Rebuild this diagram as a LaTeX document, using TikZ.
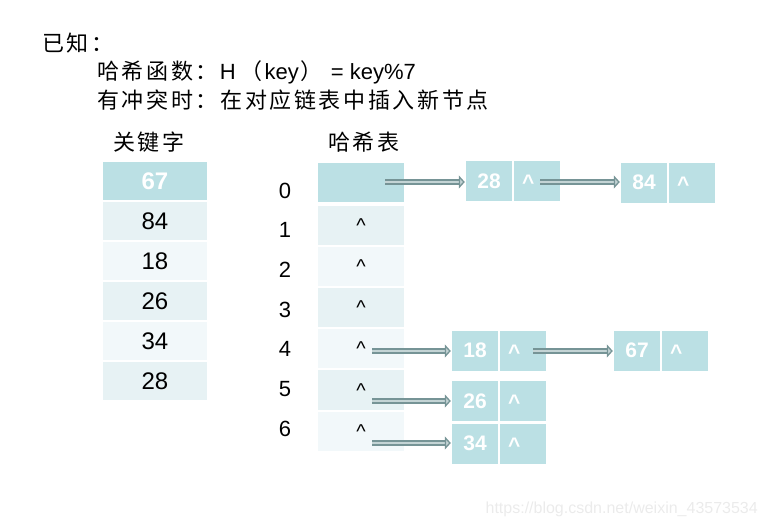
\documentclass[tikz,border=0pt]{standalone}
\usepackage{fontspec}
\setmainfont{Liberation Sans}
\newfontfamily\cjk[LetterSpace=12]{Noto Sans CJK SC}
\usetikzlibrary{arrows.meta}
\definecolor{hdark}{RGB}{187,224,228}
\definecolor{hmid}{RGB}{231,242,244}
\definecolor{hlight}{RGB}{242,248,250}
\definecolor{arrdark}{RGB}{118,148,150}
\definecolor{arrlight}{RGB}{196,212,213}
\tikzset{
  kcell/.style={fill=#1, minimum width=104pt, minimum height=38pt, inner sep=0pt, font=\fontsize{24}{28}\selectfont},
  hcell/.style={fill=#1, minimum width=86pt, minimum height=39pt, inner sep=0pt, font=\fontsize{20}{24}\selectfont, text height=14pt, text depth=0pt},
  lval/.style={fill=hdark, minimum width=46pt, minimum height=40pt, inner sep=0pt, text=white, font=\fontsize{21}{25}\selectfont\bfseries},
  lptr/.style={lval, text height=17pt, text depth=0pt, text width=30pt, align=left},
  idx/.style={font=\fontsize{22}{26}\selectfont, inner sep=0pt},
  ptrarrow/.style={draw=arrdark, line width=1.6pt, double=arrlight, double distance=2.8pt,
    -{Triangle[length=6pt,width=13pt,fill=arrlight,line width=1.3pt]}, shorten >=1pt},
  htext/.style={anchor=west, inner sep=0pt, font=\fontsize{22}{26}\selectfont},
}
\begin{document}
\begin{tikzpicture}[x=1pt,y=-1pt]
\useasboundingbox (0,0) rectangle (767,527);
% header
\node[htext] (t0) at (42,43) {{\cjk 已知：}};
\node[htext] (t1) at (97,72) {{\cjk 哈希函数：}\hspace{2pt}H\hspace{5pt}{\cjk （}\hspace{2pt}key\hspace{2pt}{\cjk ）}\hspace{8pt}= key\%7};
\node[htext] (t2) at (97,100) {{\cjk 有冲突时：在对应链表中插入新节点}};
\node[inner sep=0pt, font=\fontsize{22}{26}\selectfont] (kh) at (149,142) {\cjk 关键字};
\node[inner sep=0pt, font=\fontsize{22}{26}\selectfont] (hh) at (364,142) {\cjk 哈希表};
% keyword table
\node[kcell=hdark, text=white, font=\fontsize{24}{28}\selectfont\bfseries] (k1) at (155,181) {67};
\node[kcell=hmid] (k2) at (155,221) {84};
\node[kcell=hlight] (k3) at (155,261) {18};
\node[kcell=hmid] (k4) at (155,301) {26};
\node[kcell=hlight] (k5) at (155,341) {34};
\node[kcell=hmid] (k6) at (155,381) {28};
% indices
\node[idx] (i0) at (285,191) {0};
\node[idx] (i1) at (285,230) {1};
\node[idx] (i2) at (285,270) {2};
\node[idx] (i3) at (285,310) {3};
\node[idx] (i4) at (285,349) {4};
\node[idx] (i5) at (285,389) {5};
\node[idx] (i6) at (285,429) {6};
% hash table
\node[hcell=hdark] (h0) at (361,182.5) {};
\node[hcell=hmid] (h1) at (361,225.5) {\^{}};
\node[hcell=hlight] (h2) at (361,266.5) {\^{}};
\node[hcell=hmid] (h3) at (361,307.5) {\^{}};
\node[hcell=hlight] (h4) at (361,348.5) {\^{}};
\node[hcell=hmid, minimum height=40pt] (h5) at (361,390) {\^{}};
\node[hcell=hlight] (h6) at (361,431.5) {\^{}};
% linked nodes
\node[lval] (a1) at (489,181) {28};
\node[lptr] (a2) at (537,181) {\^{}};
\node[lval] (b1) at (644,182.5) {84};
\node[lptr] (b2) at (692,182.5) {\^{}};
\node[lval] (c1) at (475,350.5) {18};
\node[lptr] (c2) at (523,350.5) {\^{}};
\node[lval] (d1) at (637,350.5) {67};
\node[lptr] (d2) at (685,350.5) {\^{}};
\node[lval] (e1) at (475,401) {26};
\node[lptr] (e2) at (523,401) {\^{}};
\node[lval] (f1) at (475,443.5) {34};
\node[lptr] (f2) at (523,443.5) {\^{}};
% arrows
\coordinate (s0) at (385,182);
\coordinate (sa) at (540,182);
\coordinate (s4) at (372,351);
\coordinate (sc) at (533,351);
\coordinate (s5) at (372,401);
\coordinate (s6) at (372,443);
\draw[ptrarrow] (s0) -- (s0 -| a1.west);
\draw[ptrarrow] (sa) -- (sa -| b1.west);
\draw[ptrarrow] (s4) -- (s4 -| c1.west);
\draw[ptrarrow] (sc) -- (sc -| d1.west);
\draw[ptrarrow] (s5) -- (s5 -| e1.west);
\draw[ptrarrow] (s6) -- (s6 -| f1.west);
% watermark
\node[anchor=east, inner sep=0pt, font=\fontsize{16}{19}\selectfont, text=black!8] (wm) at (758,509) {https://blog.csdn.net/weixin\_43573534};
\end{tikzpicture}
\end{document}
